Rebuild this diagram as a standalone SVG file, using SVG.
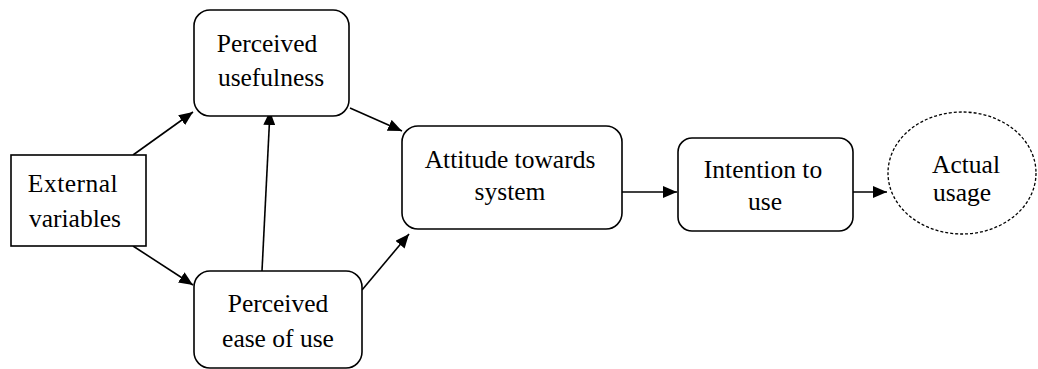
<svg xmlns="http://www.w3.org/2000/svg" width="1038" height="369" viewBox="0 0 1038 369">
<style>
.box{fill:#fff;stroke:#000;stroke-width:1.6}
.dash{fill:#fff;stroke:#000;stroke-width:1.3;stroke-dasharray:3 2}
.c{stroke:#000;stroke-width:1.6;fill:none;marker-end:url(#ah)}
</style>
<defs>
<marker id="ah" viewBox="0 0 14 12" refX="14" refY="6" markerWidth="14" markerHeight="12" markerUnits="userSpaceOnUse" orient="auto">
<path d="M0,0 L14,6 L0,12 z" fill="#000"/>
</marker>
</defs>
<g id="connectors">
<line class="c" x1="133" y1="155" x2="193" y2="112"/>
<line class="c" x1="133" y1="246" x2="193" y2="285"/>
<line class="c" x1="262" y1="271" x2="270" y2="111"/>
<line class="c" x1="350" y1="108" x2="402" y2="131"/>
<line class="c" x1="362" y1="290" x2="409" y2="234"/>
<line class="c" x1="622" y1="192" x2="677" y2="192"/>
<line class="c" x1="853" y1="192" x2="887" y2="192"/>
</g>
<g font-family="'Liberation Serif', 'Times New Roman', 'DejaVu Serif', serif" font-size="25.5" text-anchor="middle" fill="#000">
<g id="external">
<rect class="box" x="11" y="155" width="135" height="91"/>
<text x="73" y="192" letter-spacing="0.5">External</text>
<text x="75" y="227">variables</text>
</g>
<g id="usefulness">
<rect class="box" x="194" y="10" width="155" height="106" rx="16"/>
<text x="267" y="52">Perceived</text>
<text x="271" y="86">usefulness</text>
</g>
<g id="ease">
<rect class="box" x="194" y="271" width="168" height="97" rx="16"/>
<text x="278" y="312">Perceived</text>
<text x="278" y="347">ease of use</text>
</g>
<g id="attitude">
<rect class="box" x="402" y="126" width="220" height="103" rx="16"/>
<text x="510" y="168">Attitude towards</text>
<text x="510" y="200">system</text>
</g>
<g id="intention">
<rect class="box" x="678" y="138" width="175" height="93" rx="14"/>
<text x="763" y="178">Intention to</text>
<text x="765" y="210">use</text>
</g>
<g id="actual">
<ellipse class="dash" cx="962" cy="173" rx="74" ry="61"/>
<text x="966" y="173">Actual</text>
<text x="962" y="201">usage</text>
</g>
</g>
</svg>
